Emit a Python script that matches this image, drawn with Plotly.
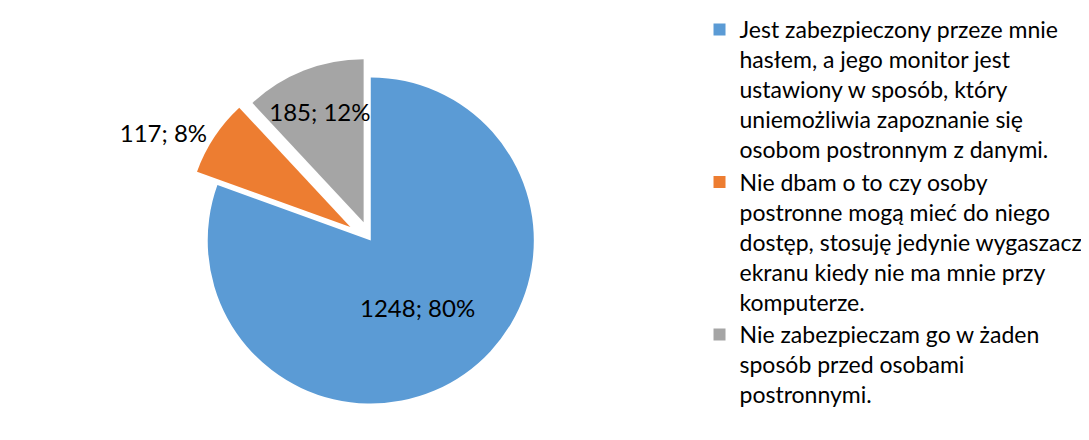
import plotly.graph_objects as go

categories = [
    "Jest zabezpieczony przeze mnie<br>hasłem, a jego monitor jest<br>ustawiony w sposób, który<br>uniemożliwia zapoznanie się<br>osobom postronnym z danymi.",
    "Nie dbam o to czy osoby<br>postronne mogą mieć do niego<br>dostęp, stosuję jedynie wygaszacz<br>ekranu kiedy nie ma mnie przy<br>komputerze.",
    "Nie zabezpieczam go w żaden<br>sposób przed osobami<br>postronnymi.",
]
values = [1248, 117, 185]
pct_labels = ["80%", "8%", "12%"]
colors = ["#5B9BD5", "#ED7D31", "#A5A5A5"]

fig = go.Figure(go.Pie(
    labels=categories,
    values=values,
    customdata=pct_labels,
    texttemplate="%{value}; %{customdata}",
    textposition=["inside", "outside", "inside"],
    insidetextorientation="horizontal",
    sort=False,
    direction="clockwise",
    rotation=0,
    pull=[0, 0.15, 0.12],
    marker=dict(colors=colors, line=dict(color="white", width=0)),
    textfont=dict(family="Lato", size=24, color="black"),
    hoverinfo="label+value+percent",
    domain=dict(x=[0.0, 0.66], y=[0.0, 1.0]),
))

fig.update_layout(
    width=1089, height=440,
    margin=dict(l=10, r=10, t=45, b=20, autoexpand=False),
    paper_bgcolor="white",
    plot_bgcolor="white",
    font=dict(family="Lato", size=23, color="black"),
    uniformtext=dict(minsize=24, mode="show"),
    legend=dict(
        xref="container", yref="container",
        x=0.635, y=1.0, xanchor="left", yanchor="top",
        font=dict(family="Lato", size=23, color="black"),
        tracegroupgap=18,
        itemwidth=30,
        valign="top",
        maxheight=440,
    ),
    showlegend=True,
)

fig.write_html("out.html")
